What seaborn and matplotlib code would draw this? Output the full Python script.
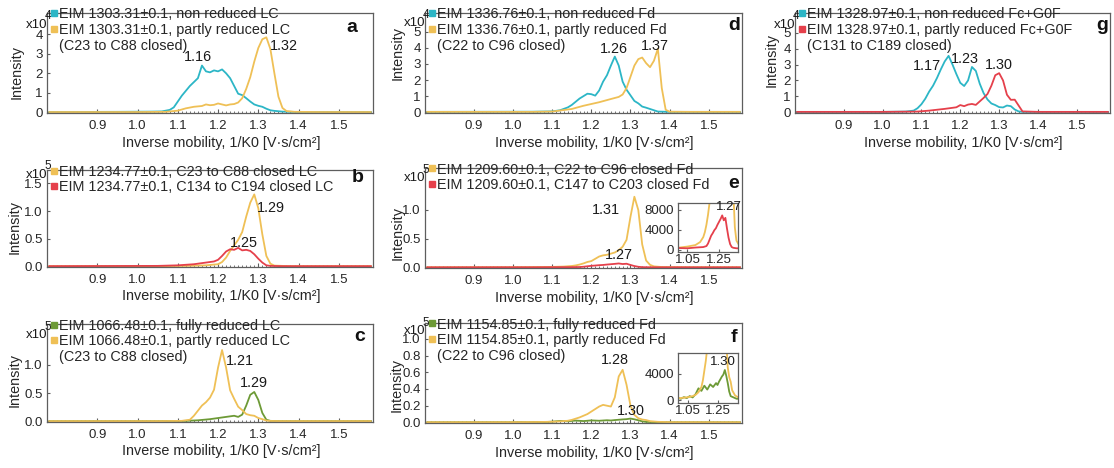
import numpy as np
import pandas as pd
import matplotlib
matplotlib.use("Agg")
import matplotlib.pyplot as plt
from matplotlib.lines import Line2D
from matplotlib.ticker import FixedLocator, MultipleLocator, FuncFormatter
import seaborn as sns

sns.set_theme(style="white")
plt.rcParams["font.family"] = ["Liberation Sans", "DejaVu Sans"]

CYAN = "#2cb6c6"
GOLD = "#efc056"
RED = "#e5404b"
GREEN = "#6d9a36"

# ---------------- a : LC, EIM 1303.31 ----------------
a_non_x = [0.78, 0.95, 1.03, 1.06, 1.08, 1.09, 1.10, 1.11, 1.12, 1.13, 1.14, 1.15, 1.16, 1.17,
           1.18, 1.19, 1.20, 1.21, 1.22, 1.23, 1.24, 1.25, 1.26, 1.27, 1.28, 1.29, 1.30, 1.31,
           1.32, 1.33, 1.34, 1.36, 1.40, 1.50, 1.58]
a_non_y = [100, 200, 300, 400, 1200, 2500, 5500, 8500, 11000, 13500, 15500, 17500, 24000, 21000,
           20500, 21500, 21000, 22000, 20000, 17500, 13500, 9500, 8800, 7200, 5500, 4000, 3300, 2800,
           1800, 1000, 700, 300, 100, 100, 100]
a_part_x = [0.78, 1.00, 1.07, 1.10, 1.12, 1.14, 1.16, 1.17, 1.18, 1.19, 1.20, 1.21, 1.22, 1.23,
            1.24, 1.25, 1.26, 1.27, 1.28, 1.29, 1.30, 1.31, 1.32, 1.33, 1.34, 1.35, 1.36, 1.37,
            1.39, 1.45, 1.58]
a_part_y = [100, 100, 200, 800, 2000, 2800, 3200, 4000, 3600, 3800, 4500, 4000, 3500, 4000,
            4200, 5000, 7200, 12000, 18000, 26000, 33000, 37500, 38500, 32500, 20000, 8000, 2200, 600,
            200, 100, 100]

# ---------------- b : LC, EIM 1234.77 ----------------
b_c23_x = [0.78, 1.05, 1.12, 1.17, 1.20, 1.21, 1.22, 1.23, 1.24, 1.25, 1.26, 1.27, 1.28, 1.29,
           1.30, 1.31, 1.32, 1.33, 1.34, 1.38, 1.58]
b_c23_y = [500, 500, 1000, 2000, 4000, 8000, 16000, 28000, 38000, 48000, 62000, 90000, 115000, 130000,
           105000, 58000, 19000, 5000, 1500, 500, 500]
b_c134_x = [0.78, 1.05, 1.10, 1.14, 1.17, 1.19, 1.20, 1.21, 1.22, 1.23, 1.24, 1.25, 1.26, 1.27,
            1.28, 1.29, 1.30, 1.31, 1.32, 1.33, 1.36, 1.58]
b_c134_y = [500, 1000, 2000, 4000, 7000, 9000, 12000, 19000, 27000, 31000, 30000, 33500, 29000, 30000,
            28000, 22000, 14000, 7000, 2000, 1000, 500, 500]

# ---------------- c : LC, EIM 1066.48 ----------------
c_full_x = [0.78, 1.05, 1.12, 1.15, 1.18, 1.21, 1.24, 1.25, 1.26, 1.27, 1.28, 1.29, 1.30, 1.31,
            1.32, 1.33, 1.36, 1.58]
c_full_y = [500, 500, 1000, 2000, 4000, 7000, 10000, 8000, 12000, 28000, 47000, 52000, 38000, 15000,
            3000, 1000, 500, 500]
c_part_x = [0.78, 1.05, 1.11, 1.13, 1.14, 1.15, 1.16, 1.17, 1.18, 1.19, 1.20, 1.21, 1.22, 1.23,
            1.24, 1.25, 1.26, 1.27, 1.28, 1.29, 1.30, 1.31, 1.32, 1.33, 1.36, 1.58]
c_part_y = [500, 500, 1000, 3000, 10000, 19000, 28000, 34000, 42000, 56000, 95000, 126000, 95000, 55000,
            40000, 26000, 20000, 13000, 11000, 10000, 6000, 4000, 1500, 800, 500, 500]

# ---------------- d : Fd, EIM 1336.76 ----------------
d_non_x = [0.78, 1.05, 1.10, 1.12, 1.14, 1.15, 1.16, 1.17, 1.18, 1.19, 1.20, 1.21, 1.22, 1.23,
           1.24, 1.25, 1.26, 1.27, 1.28, 1.29, 1.30, 1.31, 1.32, 1.33, 1.34, 1.35, 1.36, 1.37,
           1.40, 1.58]
d_non_y = [200, 300, 500, 1200, 3000, 4500, 6500, 8500, 10000, 11500, 11200, 10300, 13500, 19000,
           23000, 29000, 34600, 29000, 19000, 14000, 10500, 7000, 5500, 3500, 2800, 2000, 1200, 400,
           200, 200]
d_part_x = [0.78, 1.05, 1.10, 1.15, 1.18, 1.22, 1.25, 1.27, 1.28, 1.29, 1.30, 1.31, 1.32, 1.33,
            1.34, 1.35, 1.36, 1.37, 1.38, 1.39, 1.40, 1.45, 1.58]
d_part_y = [200, 200, 400, 2000, 4000, 6200, 8200, 9500, 11000, 15000, 22000, 29000, 33000, 34000,
            30500, 28000, 32000, 39500, 15000, 1500, 300, 200, 200]

# ---------------- e : Fd, EIM 1209.60 ----------------
e_c22_x = [0.78, 1.00, 1.05, 1.10, 1.13, 1.15, 1.16, 1.17, 1.18, 1.19, 1.20, 1.21, 1.22, 1.23,
           1.24, 1.25, 1.26, 1.27, 1.28, 1.29, 1.30, 1.31, 1.32, 1.33, 1.34, 1.35, 1.36, 1.38,
           1.45, 1.58]
e_c22_y = [300, 400, 600, 900, 1500, 2500, 3500, 5000, 7000, 9500, 11000, 15000, 19000, 21000,
           22000, 24000, 26000, 30000, 36000, 48000, 88000, 123000, 100000, 40000, 12000, 4500, 1800, 700,
           400, 300]
e_c147_x = [0.78, 1.00, 1.05, 1.10, 1.15, 1.17, 1.18, 1.19, 1.20, 1.21, 1.22, 1.23, 1.24, 1.25,
            1.26, 1.27, 1.28, 1.29, 1.30, 1.31, 1.32, 1.33, 1.34, 1.36, 1.45, 1.58]
e_c147_y = [200, 300, 250, 400, 500, 700, 1200, 2000, 2800, 3300, 3900, 4300, 5000, 5600,
            6200, 6900, 5900, 6400, 4300, 2400, 1100, 500, 350, 250, 200, 200]

# ---------------- f : Fd, EIM 1154.85 ----------------
f_full_x = [0.78, 0.98, 1.00, 1.02, 1.04, 1.06, 1.08, 1.10, 1.12, 1.14, 1.16, 1.18, 1.20, 1.22,
            1.24, 1.25, 1.26, 1.27, 1.28, 1.29, 1.30, 1.31, 1.32, 1.33, 1.34, 1.36, 1.38, 1.58]
f_full_y = [150, 300, 200, 450, 300, 600, 400, 900, 1800, 1400, 2200, 1600, 2400, 2000,
            2600, 2300, 2800, 3200, 3600, 3900, 4600, 3700, 2600, 1300, 600, 400, 200, 150]
f_part_x = [0.78, 1.00, 1.05, 1.08, 1.10, 1.12, 1.14, 1.15, 1.16, 1.17, 1.18, 1.19, 1.20, 1.21,
            1.22, 1.23, 1.24, 1.25, 1.26, 1.27, 1.28, 1.29, 1.30, 1.31, 1.32, 1.33, 1.34, 1.35,
            1.37, 1.40, 1.58]
f_part_y = [200, 300, 450, 600, 800, 1200, 2000, 3000, 4500, 6000, 8000, 10000, 13000, 16000,
            19000, 21000, 20000, 19000, 30000, 55000, 63000, 45000, 20000, 9000, 5000, 3500, 2800, 1500,
            700, 300, 200]

# ---------------- g : Fc+G0F, EIM 1328.97 ----------------
g_non_x = [0.78, 1.00, 1.06, 1.08, 1.09, 1.10, 1.11, 1.12, 1.13, 1.14, 1.15, 1.16, 1.17, 1.18,
           1.19, 1.20, 1.21, 1.22, 1.23, 1.24, 1.25, 1.26, 1.27, 1.28, 1.29, 1.30, 1.31, 1.32,
           1.33, 1.34, 1.35, 1.36, 1.40, 1.58]
g_non_y = [200, 200, 400, 1000, 2500, 5000, 8500, 13000, 16700, 21500, 27000, 32000, 35500, 30000,
           24000, 18500, 16500, 20000, 28500, 26000, 18000, 12000, 8000, 5500, 4500, 3200, 3000, 4200,
           3800, 1700, 500, 200, 200, 200]
g_part_x = [0.78, 1.00, 1.09, 1.12, 1.16, 1.19, 1.20, 1.21, 1.22, 1.23, 1.24, 1.25, 1.26, 1.27,
            1.28, 1.29, 1.30, 1.31, 1.32, 1.33, 1.34, 1.35, 1.36, 1.40, 1.58]
g_part_y = [200, 200, 400, 1000, 2100, 3100, 4500, 3800, 4800, 5200, 4600, 6800, 9000, 11500,
            16700, 23300, 24600, 20000, 11000, 7800, 7900, 4200, 500, 200, 200]

x_ticks = [0.9, 1.0, 1.1, 1.2, 1.3, 1.4, 1.5]
x_label = "Inverse mobility, 1/K0 [V\u00b7s/cm\u00b2]"

PANELS = [
    dict(tag="a", box=(47, 13, 373, 113), exp=4, dec=0, ylim=(-400, 51000),
         yticks=[0, 1e4, 2e4, 3e4, 4e4],
         series=[(a_non_x, a_non_y, CYAN), (a_part_x, a_part_y, GOLD)],
         labels=["EIM 1303.31\u00b10.1, non reduced LC", "EIM 1303.31\u00b10.1, partly reduced LC",
                 "(C23 to C88 closed)"],
         peaks=[(0, 1.16, -4, 2, "center", "bottom"), (1, 1.32, 4, -2, "left", "top")],
         ylab=(-0.092, 0.41), expy=(0.88, 0.97), tagxy=(0.936, 0.85)),
    dict(tag="b", box=(47, 170, 373, 267), exp=5, dec=1, ylim=(-1000, 174000),
         yticks=[0, 5e4, 1e5, 1.5e5],
         series=[(b_c23_x, b_c23_y, GOLD), (b_c134_x, b_c134_y, RED)],
         labels=["EIM 1234.77\u00b10.1, C23 to C88 closed LC", "EIM 1234.77\u00b10.1, C134 to C194 closed LC"],
         peaks=[(0, 1.29, 3, -7, "left", "top"), (1, 1.25, 6, -2, "center", "bottom")],
         ylab=(-0.098, 0.41), expy=(0.95, 1.04), tagxy=(0.954, 0.92)),
    dict(tag="c", box=(47, 324, 373, 422), exp=5, dec=1, ylim=(-1000, 172000),
         yticks=[0, 5e4, 1e5],
         series=[(c_full_x, c_full_y, GREEN), (c_part_x, c_part_y, GOLD)],
         labels=["EIM 1066.48\u00b10.1, fully reduced LC", "EIM 1066.48\u00b10.1, partly reduced LC",
                 "(C23 to C88 closed)"],
         peaks=[(1, 1.21, 4, -4, "left", "top"), (0, 1.29, 0, 2, "center", "bottom")],
         ylab=(-0.098, 0.43), expy=(0.89, 0.97), tagxy=(0.96, 0.87)),
    dict(tag="d", box=(425, 13, 742, 113), exp=4, dec=0, ylim=(-500, 61700),
         yticks=[0, 1e4, 2e4, 3e4, 4e4, 5e4],
         series=[(d_non_x, d_non_y, CYAN), (d_part_x, d_part_y, GOLD)],
         labels=["EIM 1336.76\u00b10.1, non reduced Fd", "EIM 1336.76\u00b10.1, partly reduced Fd",
                 "(C22 to C96 closed)"],
         peaks=[(0, 1.26, -1, 1, "center", "bottom"), (1, 1.37, -3, 3, "center", "center")],
         ylab=(-0.085, 0.6), expy=(0.90, 0.98), tagxy=(0.975, 0.88)),
    dict(tag="e", box=(425, 168, 742, 268), exp=5, dec=1, ylim=(-1000, 173000),
         yticks=[0, 5e4, 1e5],
         series=[(e_c22_x, e_c22_y, GOLD), (e_c147_x, e_c147_y, RED)],
         labels=["EIM 1209.60\u00b10.1, C22 to C96 closed Fd", "EIM 1209.60\u00b10.1, C147 to C203 closed Fd"],
         peaks=[(0, 1.31, -14, -6, "right", "top"), (1, 1.27, 0, 1, "center", "bottom")],
         ylab=(-0.085, 0.35), expy=(0.90, 0.98), tagxy=(0.975, 0.85),
         inset=dict(box=(678, 203, 738, 252), xlim=(0.99, 1.37), ylim=(-500, 9400),
                    yticks=[0, 4000, 8000], peaks=[(1, 1.27, 7, 2, "center", "bottom")])),
    dict(tag="f", box=(425, 323, 742, 423), exp=5, dec=1, ylim=(-700, 119000),
         yticks=[0, 2e4, 4e4, 6e4, 8e4, 1e5],
         series=[(f_full_x, f_full_y, GREEN), (f_part_x, f_part_y, GOLD)],
         labels=["EIM 1154.85\u00b10.1, fully reduced Fd", "EIM 1154.85\u00b10.1, partly reduced Fd",
                 "(C22 to C96 closed)"],
         peaks=[(1, 1.28, -8, 3, "center", "bottom"), (0, 1.30, 0, 1, "center", "bottom")],
         ylab=(-0.088, 0.38), expy=(0.92, 1.0), tagxy=(0.975, 0.85),
         inset=dict(box=(678, 353, 738, 403), xlim=(0.98, 1.39), ylim=(-450, 7200),
                    yticks=[0, 4000], peaks=[(0, 1.30, -2, 2, "center", "bottom")])),
    dict(tag="g", box=(795, 13, 1110, 113), exp=4, dec=0, ylim=(-500, 62500),
         yticks=[0, 1e4, 2e4, 3e4, 4e4, 5e4],
         series=[(g_non_x, g_non_y, CYAN), (g_part_x, g_part_y, RED)],
         labels=["EIM 1328.97\u00b10.1, non reduced Fc+G0F", "EIM 1328.97\u00b10.1, partly reduced Fc+G0F",
                 "(C131 to C189 closed)"],
         peaks=[(0, 1.17, -8, -10, "right", "center"), (0, 1.23, -7, 1, "center", "bottom"),
                (1, 1.30, 0, 1, "center", "bottom")],
         ylab=(-0.073, 0.53), expy=(0.88, 0.97), tagxy=(0.975, 0.88)),
]

W, H = 1114, 468
fig = plt.figure(figsize=(W / 100, H / 100), dpi=100)
fig.patch.set_facecolor("white")

SPINE = "#5e5e5e"
TICK_FS = 9.5
TEXT_FS = 10.4


def px_axes(box):
    left, top, right, bottom = box
    return fig.add_axes([left / W, 1 - bottom / H, (right - left) / W, (bottom - top) / H])


def draw_traces(ax, series):
    for x, y, col in series:
        df = pd.DataFrame({"k0": x, "intensity": y})
        sns.lineplot(data=df, x="k0", y="intensity", ax=ax, color=col, lw=1.3,
                     estimator=None, sort=False, legend=False)


def style_box(ax):
    for s in ax.spines.values():
        s.set_color(SPINE)
        s.set_linewidth(0.9)
        s.set_visible(True)


def mark_peak(ax, series, idx, px, dx, dy, ha, va, fs):
    x, y, _ = series[idx]
    yv = float(np.interp(px, x, y))
    ax.annotate(f"{px:.2f}", xy=(px, yv), xytext=(dx, dy), textcoords="offset pixels",
                ha=ha, va=va, fontsize=fs, color="#1a1a1a")


for p in PANELS:
    ax = px_axes(p["box"])
    draw_traces(ax, p["series"])
    ax.set_xlim(0.775, 1.585)
    ax.set_ylim(*p["ylim"])
    style_box(ax)

    ax.xaxis.set_major_locator(FixedLocator(x_ticks))
    ax.xaxis.set_major_formatter(FuncFormatter(lambda v, _: f"{v:.1f}"))
    ax.xaxis.set_minor_locator(MultipleLocator(0.01))
    ax.yaxis.set_major_locator(FixedLocator(p["yticks"]))
    scale = 10 ** p["exp"]
    dec = p["dec"]
    ax.yaxis.set_major_formatter(FuncFormatter(lambda v, _, s=scale, d=dec: f"{v / s:.{d}f}"))
    ax.tick_params(axis="x", which="major", direction="in", length=3, width=0.8, color=SPINE,
                   labelsize=TICK_FS, pad=5, bottom=True)
    ax.tick_params(axis="x", which="minor", direction="in", length=1.5, width=0.6, color=SPINE,
                   bottom=True)
    ax.tick_params(axis="y", direction="in", length=2, width=0.8, color=SPINE,
                   labelsize=TICK_FS, pad=3, left=True)

    ax.set_xlabel(x_label, fontsize=TEXT_FS, va="center")
    ax.xaxis.set_label_coords(0.535, -0.30)
    ax.set_ylabel("Intensity", fontsize=TEXT_FS, va="center")
    ax.yaxis.set_label_coords(*p["ylab"])

    # multiplier shown at the top of the intensity axis
    ax.text(0.0, p["expy"][0], "x10", transform=ax.transAxes, ha="right", va="center",
            fontsize=9.5, color="#1a1a1a")
    ax.text(-0.008, p["expy"][1], str(p["exp"]), transform=ax.transAxes, ha="left",
            va="center", fontsize=8.5, color="#1a1a1a")

    handles = [Line2D([], [], ls="none", marker="s", ms=4.5, color=c) for _, _, c in p["series"]]
    if len(p["labels"]) > len(p["series"]):
        handles.append(Line2D([], [], ls="none"))
    ax.legend(handles, p["labels"], loc="upper left", bbox_to_anchor=(0.013, 1.055),
              frameon=False, fontsize=TEXT_FS, handlelength=0.4, handletextpad=0.15,
              labelspacing=0.12, borderpad=0, borderaxespad=0)

    ax.text(*p["tagxy"], p["tag"], transform=ax.transAxes, ha="center", va="center",
            fontsize=14, fontweight="bold", color="#111111")

    for idx, pkx, dx, dy, ha, va in p["peaks"]:
        mark_peak(ax, p["series"], idx, pkx, dx, dy, ha, va, TEXT_FS)

    if "inset" in p:
        ins = p["inset"]
        iax = px_axes(ins["box"])
        iax.set_facecolor("white")
        draw_traces(iax, p["series"])
        iax.set_xlim(*ins["xlim"])
        iax.set_ylim(*ins["ylim"])
        style_box(iax)
        iax.set_xlabel("")
        iax.set_ylabel("")
        iax.xaxis.set_major_locator(FixedLocator([1.05, 1.25]))
        iax.xaxis.set_major_formatter(FuncFormatter(lambda v, _: f"{v:.2f}"))
        iax.yaxis.set_major_locator(FixedLocator(ins["yticks"]))
        iax.yaxis.set_major_formatter(FuncFormatter(lambda v, _: f"{v:.0f}"))
        iax.tick_params(axis="both", direction="in", length=2, width=0.8, color=SPINE,
                        labelsize=TICK_FS, pad=1.5, bottom=True, left=True)
        iax.tick_params(axis="y", pad=3)
        for idx, pkx, dx, dy, ha, va in ins["peaks"]:
            mark_peak(iax, p["series"], idx, pkx, dx, dy, ha, va, 9.5)

fig.savefig("out.png", dpi=100, facecolor="white")
